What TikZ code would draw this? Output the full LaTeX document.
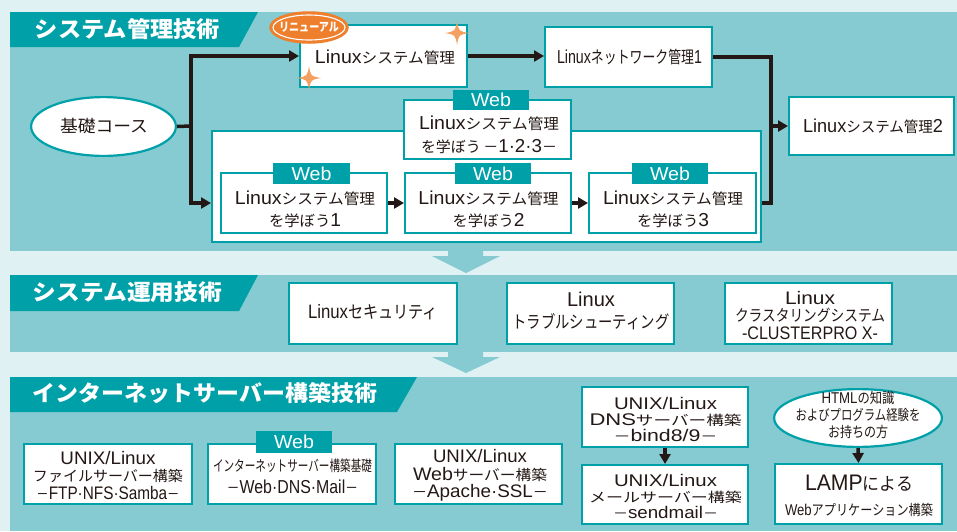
\documentclass[tikz,border=0pt]{standalone}
\usepackage{fontspec}
\setmainfont{Noto Sans CJK JP}
\newfontfamily\latn[Scale=1.25]{Liberation Sans}
\usepackage{graphicx}
\usetikzlibrary{arrows.meta,shapes.geometric}
\definecolor{bgc}{HTML}{E0F1F4}
\definecolor{panelc}{HTML}{85CBD1}
\definecolor{tealc}{HTML}{00A0A8}
\definecolor{ink}{HTML}{231815}
\definecolor{orgc}{HTML}{EE7F2D}
\definecolor{starc}{HTML}{F4A061}
\newcommand\fitw[2]{\resizebox{#1pt}{\height}{#2}}
\newcommand\lt[1]{{\latn #1}}
\newcommand\kz[2]{{\fontsize{#1}{#1}\selectfont #2}}
\newcommand\mkbox[6]{\node[#2, minimum width={#5-#3-2.2}, minimum height={#6-#4-2.2}] (#1) at ({(#3+#5)/2},{(#4+#6)/2}) {};}
\newcommand\sparkle[3]{\fill[starc] (#1,{#2-#3}) .. controls ({#1+0.14*#3},{#2-0.14*#3}) .. ({#1+#3},#2) .. controls ({#1+0.14*#3},{#2+0.14*#3}) .. (#1,{#2+#3}) .. controls ({#1-0.14*#3},{#2+0.14*#3}) .. ({#1-#3},#2) .. controls ({#1-0.14*#3},{#2-0.14*#3}) .. cycle;}
\tikzset{
  bxs/.style={draw=tealc, fill=white, line width=2.2pt, inner sep=0pt},
  ellx/.style={ellipse, draw=tealc, fill=white, line width=2.2pt, inner sep=0pt},
  webtab/.style={draw=tealc, fill=tealc, line width=2.2pt, inner sep=0pt},
  txt/.style={text=ink, align=center, inner sep=0pt, font=\fontsize{15}{22.5}\selectfont},
  ttl/.style={text=white, inner sep=0pt, font=\fontsize{22}{22}\selectfont\bfseries},
  wtx/.style={text=white, inner sep=0pt, font=\fontsize{15}{15}\selectfont},
  conn/.style={draw=ink, line width=3.5pt},
  arr/.style={conn, -{Triangle[length=10pt,width=11pt]}},
}
\begin{document}
\begin{tikzpicture}[x=1pt,y=-1pt]
\useasboundingbox (0,0) rectangle (957,531);
\fill[bgc] (0,0) rectangle (957,531);
% panels
\fill[panelc] (10,12) rectangle (957,251);
\fill[panelc] (10,275) rectangle (957,352);
\fill[panelc] (10,377) rectangle (957,531);
\fill[panelc] (448,250) -- (483,250) -- (483,256) -- (500,256) -- (466,273) -- (432,256) -- (448,256) -- cycle;
\fill[panelc] (448,351) -- (483,351) -- (483,357) -- (500,357) -- (466,373) -- (432,357) -- (448,357) -- cycle;
% banners
\fill[tealc] (10,12) -- (258,12) -- (239,47) -- (10,47) -- cycle;
\fill[tealc] (10,275) -- (258,275) -- (239,311) -- (10,311) -- cycle;
\fill[tealc] (10,377) -- (417,377) -- (397,412) -- (10,412) -- cycle;
\node[ttl] (t1) at (127.5,29) {\fitw{185}{システム管理技術}};
\node[ttl] (t2) at (127.5,292.5) {\fitw{189}{システム運用技術}};
\node[ttl] (t3) at (205,393) {\fitw{344}{インターネットサーバー構築技術}};

% section 1 boxes
\mkbox{kiso}{ellx}{30}{96}{177}{157}
\mkbox{b1}{bxs}{299}{24}{468}{88}
\mkbox{net}{bxs}{544}{26}{713}{88}
\mkbox{b2}{bxs}{788}{96}{955}{156}
\mkbox{outer}{bxs}{211}{130}{762}{243}
\mkbox{web0}{bxs}{403}{99}{572}{160}
\mkbox{wa}{bxs}{220}{172}{388}{234}
\mkbox{wb}{bxs}{404}{172}{572}{234}
\mkbox{wc}{bxs}{588}{172}{757}{234}
\mkbox{tab0}{webtab}{453}{90}{529}{110}
\mkbox{taba}{webtab}{273}{163}{350}{184}
\mkbox{tabb}{webtab}{455}{163}{531}{184}
\mkbox{tabc}{webtab}{632}{163}{708}{184}
\node[wtx] (wt0) at (tab0) {\fitw{40}{\lt{Web}}};
\node[wtx] (wta) at (taba) {\fitw{40}{\lt{Web}}};
\node[wtx] (wtb) at (tabb) {\fitw{40}{\lt{Web}}};
\node[wtx] (wtc) at (tabc) {\fitw{40}{\lt{Web}}};

% badge and sparkles
\node[ellipse, fill=orgc, draw=orgc, line width=1.5pt, minimum width=78pt, minimum height=31pt, inner sep=0pt] (badge) at (309,27.5) {};
\node[ellipse, draw=white, line width=1.1pt, minimum width=72pt, minimum height=25pt, inner sep=0pt] (badgering) at (309,27.5) {};
\node[text=white, inner sep=0pt, font=\fontsize{12}{12}\selectfont\bfseries] (tbadge) at (309,27.5) {\fitw{60}{リニューアル}};
\sparkle{457}{33}{12}
\sparkle{309}{78}{12}

% section 1 texts
\node[txt, font=\fontsize{17}{17}\selectfont] (tkiso) at (104,126) {\fitw{88}{基礎コース}};
\node[txt] (tb1) at (385,57) {\fitw{140}{\lt{Linux}システム管理}};
\node[txt] (tnet) at (629.5,57) {\fitw{145}{\lt{Linux}\kz{17}{ネットワーク管理}\lt{1}}};
\node[txt] (tb2) at (873,126) {\fitw{140}{\lt{Linux}システム管理\lt{2}}};
\node[txt] (tw0) at (489,135) {\fitw{140}{\lt{Linux}システム管理}\\\fitw{136}{を学ぼう\,－\lt{1·2·3}－}};
\node[txt] (twa) at (305,209.5) {\fitw{140}{\lt{Linux}システム管理}\\\fitw{72}{を学ぼう\lt{1}}};
\node[txt] (twb) at (488.5,209.5) {\fitw{140}{\lt{Linux}システム管理}\\\fitw{72}{を学ぼう\lt{2}}};
\node[txt] (twc) at (673,209.5) {\fitw{140}{\lt{Linux}システム管理}\\\fitw{72}{を学ぼう\lt{3}}};

% section 1 connectors
\coordinate (j1) at (191,126);
\coordinate (j2) at (771,126);
\draw[conn] (kiso.east) -- (j1);
\draw[arr] (j1) |- (b1.west);
\draw[arr] (j1) |- (outer.west |- wa.center);
\draw[arr] (b1.east) -- (b1.east -| net.west);
\draw[conn] (net.east) -| (j2);
\draw[conn] (outer.east |- wc.center) -| (j2);
\draw[arr] (j2) -- (b2.west);
\draw[arr] (wa.east) -- (wb.west);
\draw[arr] (wb.east) -- (wc.west);

% section 2
\mkbox{sec}{bxs}{288}{282}{458}{345}
\mkbox{trb}{bxs}{506}{282}{675}{345}
\mkbox{clu}{bxs}{724}{282}{893}{345}
\node[txt, font=\fontsize{15.5}{22}\selectfont] (tsec) at (373,312) {\fitw{130}{\lt{Linux}\kz{17.5}{セキュリティ}}};
\node[txt, font=\fontsize{16}{22}\selectfont] (ttrb) at (591,311) {\fitw{48}{\lt{Linux}}\\\fitw{157}{\kz{17.5}{トラブルシューティング}}};
\node[txt, font=\fontsize{14.5}{17.5}\selectfont] (tclu) at (810,315.5) {\fitw{50}{\lt{Linux}}\\\fitw{150}{\kz{16}{クラスタリングシステム}}\\\fitw{136}{\lt{-CLUSTERPRO X-}}};

% section 3
\mkbox{file}{bxs}{23}{443}{193}{505}
\mkbox{inet}{bxs}{207}{443}{377}{505}
\mkbox{tabi}{webtab}{256}{431}{332}{453}
\node[wtx] (wti) at (tabi) {\fitw{40}{\lt{Web}}};
\mkbox{wsv}{bxs}{394}{443}{563}{505}
\mkbox{dns}{bxs}{581}{386}{749}{448}
\mkbox{mail}{bxs}{581}{464}{749}{525}
\mkbox{html}{ellx}{773}{388}{943}{448}
\mkbox{lamp}{bxs}{774}{463}{943}{525}

\node[txt, font=\fontsize{14.5}{17.5}\selectfont] (tfile) at (108,475.5) {\fitw{95}{\lt{UNIX/Linux}}\\\fitw{150}{ファイルサーバー構築}\\\fitw{143}{－\lt{FTP·NFS·Samba}－}};
\node[txt, font=\fontsize{15}{22}\selectfont] (tinet) at (292.5,476) {\fitw{159}{\kz{15}{インターネットサーバー構築基礎}}\\\fitw{131}{－\lt{Web·DNS·Mail}－}};
\node[txt, font=\fontsize{14.5}{17.5}\selectfont] (twsv) at (480,475.5) {\fitw{94}{\lt{UNIX/Linux}}\\\fitw{134}{\lt{Web}サーバー構築}\\\fitw{136}{－\lt{Apache·SSL}－}};
\node[txt, font=\fontsize{13.5}{16}\selectfont] (tdns) at (665.5,419) {\fitw{103}{\lt{UNIX/Linux}}\\\fitw{152}{\lt{DNS}サーバー構築}\\\fitw{104}{－\lt{bind8/9}－}};
\node[txt, font=\fontsize{13.5}{16}\selectfont] (tmail) at (665.5,496) {\fitw{103}{\lt{UNIX/Linux}}\\\fitw{153}{メールサーバー構築}\\\fitw{105}{－\lt{sendmail}－}};
\node[txt, font=\fontsize{12.5}{17}\selectfont] (thtml) at (858,415) {\fitw{73}{\lt{HTML}\kz{14.5}{の知識}}\\\fitw{125}{\kz{14.5}{およびプログラム経験を}}\\\fitw{60}{\kz{14.5}{お持ちの方}}};
\node[txt, font=\fontsize{15}{25}\selectfont] (tlamp) at (859,495.5) {\fitw{108}{\fontsize{18}{18}\selectfont\lt{LAMP}による}\\\fitw{148}{\fontsize{12.5}{12.5}\selectfont\lt{Web}\kz{14.5}{アプリケーション構築}}};

\draw[arr] (dns.south) -- (mail.north);
\draw[arr] (html.south) -- (lamp.north);
\end{tikzpicture}
\end{document}
